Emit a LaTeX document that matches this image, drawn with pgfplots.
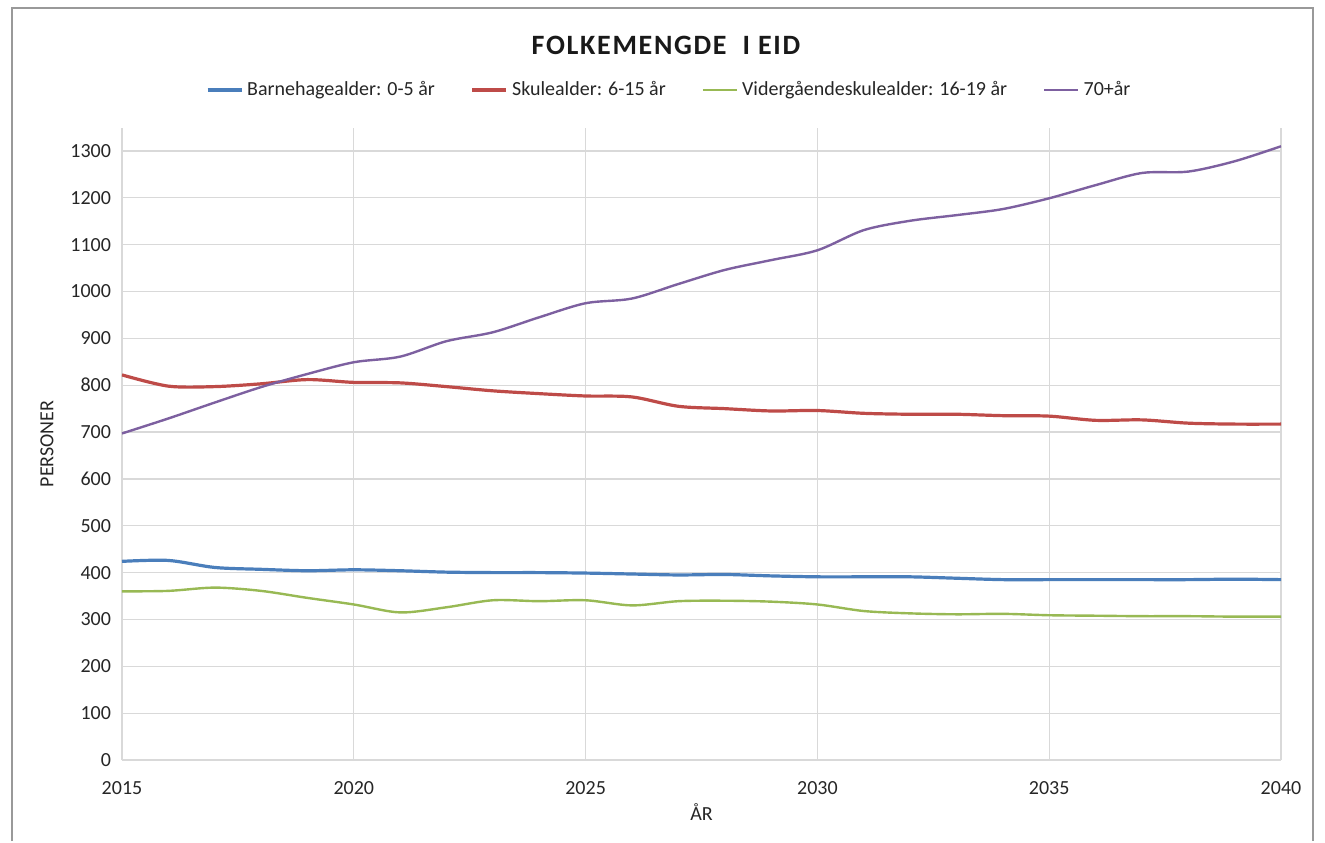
\documentclass[border=0pt]{standalone}
\usepackage{fontspec}
\setmainfont{Carlito}
\usepackage{pgfplots}
\pgfplotsset{compat=1.18}

\definecolor{cBlue}{HTML}{4A7EBB}
\definecolor{cRed}{HTML}{BE4B48}
\definecolor{cGreen}{HTML}{98B954}
\definecolor{cPurple}{HTML}{7D60A0}
\definecolor{gridgray}{HTML}{D9D9D9}

\begin{document}
\begin{tikzpicture}
\begin{axis}[
    at={(0,0)}, anchor=south west,
    scale only axis,
    width=579.5pt, height=316pt,
    xmin=2015, xmax=2040,
    ymin=0, ymax=1349,
    xtick={2015,2020,...,2040},
    ytick={0,100,...,1300},
    /pgf/number format/1000 sep={},
    /pgf/number format/assume math mode=true,
    tick label style={font=\fontsize{10}{12}\selectfont, text=black!85},
    yticklabel style={xshift=-2pt},
    xticklabel style={yshift=-7pt},
    major tick length=0pt,
    axis line style={draw=none},
    xmajorgrids, ymajorgrids,
    grid style={gridgray, line width=0.6pt},
    ylabel={PERSONER},
    xlabel={ÅR},
    label style={font=\fontsize{10}{12}\selectfont, text=black!85},
    ylabel style={at={(axis description cs:-0.0647,0.5)}, anchor=center},
    xlabel style={at={(axis description cs:0.5,-0.083)}, anchor=center},
    legend columns=4,
    legend style={draw=none, at={(0.473,1.06)}, anchor=center,
        font=\fontsize{10}{12}\selectfont, text=black!85,
        /tikz/every even column/.append style={column sep=16pt}},
    legend image code/.code={\draw[#1] (0pt,0pt) -- (17pt,0pt);},
]
\addplot[cBlue, line width=1.6pt, smooth] coordinates {
(2015,424) (2016,426) (2017,411) (2018,407) (2019,404) (2020,406)
(2021,404) (2022,401) (2023,400) (2024,400) (2025,399) (2026,397)
(2027,395) (2028,396) (2029,393) (2030,391) (2031,391) (2032,391)
(2033,388) (2034,385) (2035,385) (2036,385) (2037,385) (2038,385)
(2039,386) (2040,385)};
\addlegendentry{Barnehagealder: 0-5 år}
\addplot[cRed, line width=1.6pt, smooth] coordinates {
(2015,822) (2016,798) (2017,797) (2018,803) (2019,812) (2020,806)
(2021,805) (2022,797) (2023,788) (2024,782) (2025,777) (2026,775)
(2027,755) (2028,750) (2029,745) (2030,746) (2031,740) (2032,738)
(2033,738) (2034,735) (2035,734) (2036,725) (2037,726) (2038,719)
(2039,717) (2040,717)};
\addlegendentry{Skulealder: 6-15 år}
\addplot[cGreen, line width=1.2pt, smooth] coordinates {
(2015,360) (2016,361) (2017,368) (2018,361) (2019,346) (2020,332)
(2021,315) (2022,326) (2023,341) (2024,339) (2025,341) (2026,330)
(2027,339) (2028,340) (2029,338) (2030,332) (2031,318) (2032,313)
(2033,311) (2034,312) (2035,309) (2036,308) (2037,307) (2038,307)
(2039,306) (2040,306)};
\addlegendentry{Vidergåendeskulealder: 16-19 år}
\addplot[cPurple, line width=1.2pt, smooth] coordinates {
(2015,697) (2016,729) (2017,763) (2018,796) (2019,824) (2020,849)
(2021,861) (2022,894) (2023,913) (2024,945) (2025,975) (2026,985)
(2027,1016) (2028,1046) (2029,1067) (2030,1088) (2031,1131) (2032,1151)
(2033,1163) (2034,1176) (2035,1199) (2036,1227) (2037,1253) (2038,1256)
(2039,1278) (2040,1310)};
\addlegendentry{70+år}
\draw[gridgray, line width=0.8pt] (axis cs:2015,0) -- (axis cs:2040,0);
\end{axis}
% chart frame and page size
\path (-61pt,-40.5pt) rectangle (601.5pt,380pt);
\draw[gray!80, line width=1pt] (-55pt,-40.5pt) -- (-55pt,376pt) -- (595.5pt,376pt) -- (595.5pt,-40.5pt);
\node[font=\fontsize{14}{16}\selectfont\bfseries\addfontfeatures{LetterSpace=6}, text=black!90] at (272pt,357.5pt) {FOLKEMENGDE \ I EID};
\end{tikzpicture}
\end{document}
